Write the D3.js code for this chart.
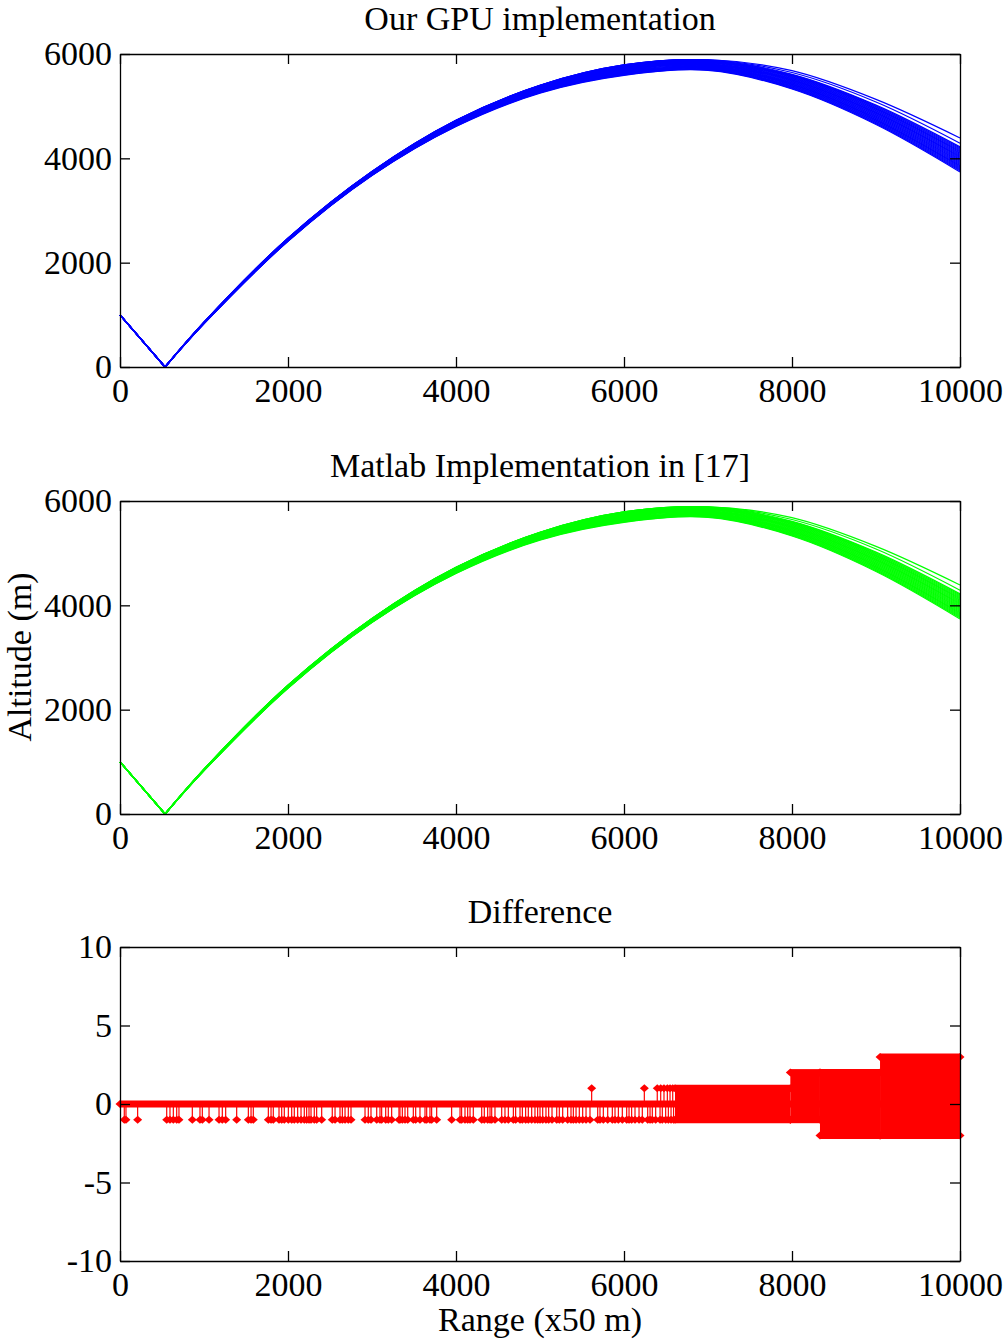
<!DOCTYPE html>
<html>
<head>
<meta charset="utf-8">
<script src="https://cdn.jsdelivr.net/npm/d3@7"></script>
<style>
  html, body { margin: 0; padding: 0; background: #fff; }
  svg { display: block; }
  text { font-family: "Liberation Serif", "Times New Roman", serif; fill: #000; }
</style>
</head>
<body>
<div id="chart"></div>
<script>
// ---------------- DATA ----------------
const panelTitles = ["Our GPU implementation", "Matlab Implementation in [17]", "Difference"];
const xTicks = [0, 2000, 4000, 6000, 8000, 10000];
const altTicks = [0, 2000, 4000, 6000];
const diffTicks = [-10, -5, 0, 5, 10];
const xLabel = "Range (x50 m)";
const yLabel = "Altitude (m)";

// Ray bundle (range index, altitude in m)
const rangePts   = [0,    536, 1000, 2000, 3000, 4000, 5000, 6000, 7000, 8000, 9000, 10000];
const bandLow    = [1000, 0,   830,  2410, 3670, 4610, 5250, 5590, 5685, 5330, 4650, 3740];
const bandHigh   = [1000, 0,   860,  2470, 3750, 4730, 5400, 5790, 5885, 5610, 5020, 4220];
const outlierA   = [1000, 0,   860,  2470, 3750, 4730, 5400, 5790, 5890, 5680, 5130, 4390];
const outlierB   = [1000, 0,   860,  2470, 3750, 4730, 5400, 5790, 5888, 5645, 5080, 4290];
// end altitude (at range 10000) of each ray in the main bundle
const rayEnds = [3740, 3760, 3780, 3800, 3820, 3840, 3860, 3880, 3900, 3920, 3940, 3960, 3980,
                 4000, 4020, 4040, 4060, 4080, 4100, 4120, 4140, 4160, 4180, 4200, 4220];

// Difference (stem) data
const diffNegRanges = [51, 71, 210, 556, 595, 635, 675, 702, 861, 952, 980, 1060, 1179, 1218, 1258, 1389,
  1528, 1560, 1587, 1766, 1798, 1825, 1893, 1925, 1956, 2004, 2044, 2075, 2115, 2155, 2194, 2222, 2250,
  2274, 2313, 2341, 2401, 2527, 2560, 2619, 2647, 2679, 2718, 2750, 2917, 2956, 2988, 3056, 3095, 3115,
  3163, 3194, 3234, 3321, 3333, 3361, 3393, 3425, 3492, 3520, 3571, 3631, 3651, 3690, 3710, 3770, 3948,
  4048, 4067, 4107, 4139, 4167, 4206, 4306, 4337, 4377, 4405, 4425, 4464, 4544, 4583, 4623, 4683, 4710,
  4762, 4790, 4829, 4861, 4901, 4940, 4972, 5000, 5032, 5071, 5103, 5143, 5199, 5230, 5270, 5329, 5369,
  5397, 5429, 5468, 5508, 5548, 5595, 5687, 5714, 5754, 5806, 5861, 5893, 5933, 5980, 6032, 6060, 6091,
  6131, 6179, 6218, 6282, 6310, 6337, 6377, 6429, 6456, 6496, 6528, 6560, 6590];
const diffNegValue = -1;
const diffPosRanges = [5615, 6242, 6396, 6437, 6476, 6516, 6548, 6580];
const diffPosValue = 1;
// dense blocks (every range index holds values spanning low..high)
const denseStart = [6607, 7980, 8333, 9048];
const denseEnd   = [7980, 8333, 9048, 10000];
const denseLow   = [-1, -1, -2, -2];
const denseHigh  = [1, 2, 2, 3];

// ---------------- LAYOUT ----------------
const W = 1007, H = 1339;
const left = 120, right = 960;
const panels = [
  { top: 54,  bottom: 367 },
  { top: 501, bottom: 814 },
  { top: 947, bottom: 1261 }
];
const fontSize = 34;
const tickLen = 10;

const svg = d3.select("#chart").append("svg").attr("width", W).attr("height", H);
const x = d3.scaleLinear().domain([0, 10000]).range([left, right]);

function drawFrame(p, y, yTicksArr, title) {
  const g = svg.append("g");
  const fmt = d => String(d);
  const bottomAxis = d3.axisBottom(x).tickValues(xTicks).tickFormat(fmt).tickSizeInner(-tickLen).tickSizeOuter(0).tickPadding(11);
  const topAxis = d3.axisTop(x).tickValues(xTicks).tickFormat("").tickSizeInner(-tickLen).tickSizeOuter(0);
  const leftAxis = d3.axisLeft(y).tickValues(yTicksArr).tickFormat(fmt).tickSizeInner(-tickLen).tickSizeOuter(0).tickPadding(8);
  const rightAxis = d3.axisRight(y).tickValues(yTicksArr).tickFormat("").tickSizeInner(-tickLen).tickSizeOuter(0);
  const ax = [
    g.append("g").attr("transform", `translate(0,${p.bottom})`).call(bottomAxis),
    g.append("g").attr("transform", `translate(0,${p.top})`).call(topAxis),
    g.append("g").attr("transform", `translate(${left},0)`).call(leftAxis),
    g.append("g").attr("transform", `translate(${right},0)`).call(rightAxis)
  ];
  ax.forEach(a => {
    a.attr("font-family", null).attr("font-size", null);
    a.selectAll("path.domain").attr("stroke", "#000").attr("stroke-width", 1.3);
    a.selectAll(".tick line").attr("stroke", "#000").attr("stroke-width", 1.3);
    a.selectAll(".tick text").style("font-size", fontSize + "px").attr("fill", "#000");
  });
  svg.append("text").attr("x", (left + right) / 2).attr("y", p.top - 24.5)
    .attr("text-anchor", "middle").style("font-size", fontSize + "px").text(title);
}

// ---------------- ALTITUDE PANELS ----------------
function drawRays(p, color) {
  const y = d3.scaleLinear().domain([0, 6000]).range([p.bottom, p.top]);
  const g = svg.append("g");
  const lin = d3.line().x(d => x(d[0])).y(d => y(d[1]));
  const smooth = d3.line().x(d => x(d[0])).y(d => y(d[1])).curve(d3.curveCatmullRom.alpha(0.5));
  const n = rangePts.length;
  const lowEnd = bandLow[n - 1], highEnd = bandHigh[n - 1];
  const rays = rayEnds.map(e => {
    const t = (e - lowEnd) / (highEnd - lowEnd);
    return rangePts.map((r, j) => [r, bandLow[j] + t * (bandHigh[j] - bandLow[j])]);
  });
  rays.push(rangePts.map((r, j) => [r, outlierB[j]]));
  rays.push(rangePts.map((r, j) => [r, outlierA[j]]));
  rays.forEach(pts => {
    const d = lin(pts.slice(0, 2)) + smooth(pts.slice(1)).replace(/^M[^LC]*/, "");
    g.append("path").attr("d", d).attr("fill", "none").attr("stroke", color).attr("stroke-width", 1.2);
  });
  return y;
}

const y0 = drawRays(panels[0], "#0000ff");
drawFrame(panels[0], y0, altTicks, panelTitles[0]);
const y1 = drawRays(panels[1], "#00ff00");
drawFrame(panels[1], y1, altTicks, panelTitles[1]);

// ---------------- DIFFERENCE PANEL ----------------
const p2 = panels[2];
const y2 = d3.scaleLinear().domain([-10, 10]).range([p2.bottom, p2.top]);
const red = "#ff0000";
const gd = svg.append("g");
function diamond(cx, cy) {
  return `M${cx - 4.5},${cy}L${cx},${cy - 4}L${cx + 4.5},${cy}L${cx},${cy + 4}Z`;
}
// zero-valued markers forming the baseline band
gd.append("line").attr("x1", x(0)).attr("x2", x(10000)).attr("y1", y2(0)).attr("y2", y2(0))
  .attr("stroke", red).attr("stroke-width", 7);
gd.append("path").attr("d", diamond(x(0), y2(0))).attr("fill", red);

function stem(r, v) {
  gd.append("line").attr("x1", x(r)).attr("x2", x(r)).attr("y1", y2(0)).attr("y2", y2(v))
    .attr("stroke", red).attr("stroke-width", 1.2);
  gd.append("path").attr("d", diamond(x(r), y2(v))).attr("fill", red);
}
diffNegRanges.forEach(r => stem(r, diffNegValue));
diffPosRanges.forEach(r => stem(r, diffPosValue));

denseStart.forEach((s, i) => {
  // solid block of stems spanning low..high
  gd.append("rect").attr("x", x(s)).attr("width", x(denseEnd[i]) - x(s))
    .attr("y", y2(denseHigh[i])).attr("height", y2(denseLow[i]) - y2(denseHigh[i]))
    .attr("fill", red);
  [denseHigh[i], denseLow[i]].forEach(v => {
    gd.append("line").attr("x1", x(s)).attr("x2", x(denseEnd[i]))
      .attr("y1", y2(v)).attr("y2", y2(v))
      .attr("stroke", red).attr("stroke-width", 7);
    gd.append("path").attr("d", diamond(x(s), y2(v))).attr("fill", red);
    gd.append("path").attr("d", diamond(x(denseEnd[i]), y2(v))).attr("fill", red);
  });
});

drawFrame(p2, y2, diffTicks, panelTitles[2]);

// ---------------- AXIS LABELS ----------------
svg.append("text").attr("x", (left + right) / 2).attr("y", 1331)
  .attr("text-anchor", "middle").style("font-size", fontSize + "px").text(xLabel);
svg.append("text").attr("transform", `translate(31,657) rotate(-90)`)
  .attr("text-anchor", "middle").style("font-size", fontSize + "px").text(yLabel);
</script>
</body>
</html>
